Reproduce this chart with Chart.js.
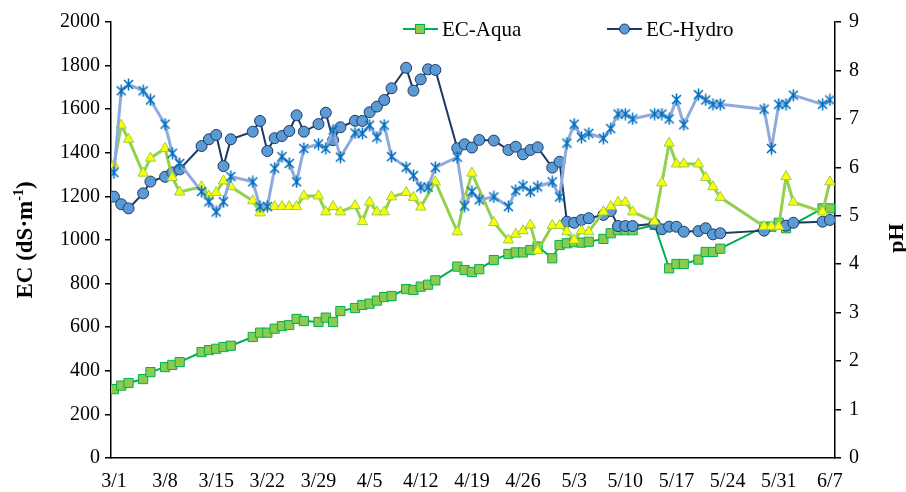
<!DOCTYPE html>
<html>
<head>
<meta charset="utf-8">
<script src="https://cdn.jsdelivr.net/npm/chart.js@4.4.0/dist/chart.umd.min.js"></script>
<style>
  html, body { margin: 0; padding: 0; background: #fff; }
</style>
</head>
<body>
<canvas id="myChart" width="906" height="492"></canvas>
<script>
// days counted from 3/1
const days = [0, 1, 2, 4, 5, 7, 8, 9, 12, 13, 14, 15, 16, 19, 20, 21, 22, 23, 24, 25, 26,
  28, 29, 30, 31, 33, 34, 35, 36, 37, 38, 40, 41, 42, 43, 44, 47, 48, 49, 50, 52,
  54, 55, 56, 57, 58, 60, 61, 62, 63, 64, 65, 67, 68, 69, 70, 71, 74, 75, 76, 77, 78,
  80, 81, 82, 83, 89, 90, 91, 92, 93, 97, 98];

const ecAqua = [316, 332, 344, 362, 394, 417, 427, 440, 486, 495, 501, 509, 515,
  555, 575, 575, 593, 605, 610, 638, 628, 624, 644, 624, 674, 688, 702, 708, 722, 738, 743,
  775, 771, 786, 795, 815, 878, 862, 853, 866, 908, 936, 943, 943, 954, 970,
  916, 977, 985, 990, 988, 992, 1005, 1031, 1045, 1045, 1045, 1069, null, 870, 890, 890,
  910, 945, 945, 960, 1061, 1061, 1079, 1054, null, 1145, 1145];

const ecHydro = [1199, 1164, 1145, 1214, 1268, 1290, 1310, 1324, 1431, 1462, 1482, 1339, 1462,
  1497, 1546, 1408, 1467, 1477, 1500, 1572, 1497, 1532, 1584, 1458, 1517,
  1547, 1546, 1586, 1612, 1642, 1696, 1790, 1685, 1737, 1783, 1780, 1421, 1439, 1424, 1459, 1456,
  1413, 1428, 1393, 1413, 1425, 1332, 1359, 1084, 1079, 1092, 1100, 1115, 1133, 1064, 1064, 1064,
  1075, 1049, 1061, 1061, 1038, 1041, 1054, 1026, 1031, 1043, null, null, 1066, 1079, 1084, 1092];

const phAqua = [6.05, 6.87, 6.58, 5.88, 6.19, 6.39, 5.79, 5.49, 5.60, 5.41, 5.48, 5.72, 5.60,
  5.31, 5.06, 5.19, 5.19, 5.19, 5.19, 5.19, 5.41, 5.41, 5.08, 5.19, 5.08,
  5.21, 4.88, 5.28, 5.08, 5.08, 5.39, 5.48, 5.38, 5.18, null, 5.70, 4.67, 5.35, 5.88, null, 4.86,
  4.50, 4.62, 4.69, 4.81, 4.28, 4.80, 4.80, 4.67, 4.50, 4.69, 4.67, 5.08, 5.19, 5.28, 5.28, 5.08,
  4.88, 5.68, 6.50, 6.07, 6.07, 6.07, 5.79, 5.60, 5.38, 4.78, 4.78, 4.78, 5.81, 5.28, 5.08, 5.70];

const phHydro = [5.89, 7.58, 7.71, 7.58, 7.39, 6.89, 6.29, 6.08, 5.50, 5.29, 5.08, 5.29, 5.81,
  5.70, 5.19, 5.19, 5.98, 6.22, 6.08, 5.70, 6.39, 6.48, 6.39, 6.77, 6.21,
  6.71, 6.70, 6.87, 6.62, 6.87, 6.22, 6.00, 5.83, 5.59, 5.59, 6.00, 6.21, 5.20, 5.50, 5.33, 5.39,
  5.19, 5.52, 5.62, 5.50, 5.60, 5.70, 5.39, 6.50, 6.89, 6.62, 6.70, 6.60, 6.80, 7.10, 7.10, 7.00,
  7.10, 7.10, 7.00, 7.40, 6.88, 7.50, 7.39, 7.30, 7.30, 7.20, 6.39, 7.30, 7.30, 7.49, 7.30, 7.39];

const tickDays = [0, 7, 14, 21, 28, 35, 42, 49, 56, 63, 70, 77, 84, 91, 98];
const tickLabels = ['3/1', '3/8', '3/15', '3/22', '3/29', '4/5', '4/12', '4/19', '4/26',
  '5/3', '5/10', '5/17', '5/24', '5/31', '6/7'];

const serif = "'Liberation Serif', 'Times New Roman', serif";

function pts(values) {
  return days.map(function (d, i) { return { x: d, y: values[i] }; });
}

// star marker: an x with a vertical bar
var star = document.createElement('canvas');
star.width = 13; star.height = 13;
(function () {
  var c = star.getContext('2d');
  c.strokeStyle = '#0070C0';
  c.lineWidth = 1.6;
  c.beginPath();
  c.moveTo(2, 2); c.lineTo(11, 11);
  c.moveTo(11, 2); c.lineTo(2, 11);
  c.moveTo(6.5, 0.5); c.lineTo(6.5, 12.5);
  c.stroke();
})();

// legend + axis titles
const decorations = {
  id: 'decorations',
  afterDraw: function (chart) {
    var ctx = chart.ctx;
    ctx.save();

    // legend
    var ly = 29;
    ctx.lineWidth = 2;
    ctx.strokeStyle = '#00B050';
    ctx.beginPath(); ctx.moveTo(403, ly); ctx.lineTo(438, ly); ctx.stroke();
    ctx.fillStyle = '#8CCB4E';
    ctx.lineWidth = 1;
    ctx.fillRect(415.5, ly - 4.5, 9, 9);
    ctx.strokeRect(415.5, ly - 4.5, 9, 9);

    ctx.lineWidth = 2;
    ctx.strokeStyle = '#203864';
    ctx.beginPath(); ctx.moveTo(607, ly); ctx.lineTo(642, ly); ctx.stroke();
    ctx.fillStyle = '#5B9BD5';
    ctx.lineWidth = 1;
    ctx.beginPath(); ctx.arc(624.5, ly, 5, 0, Math.PI * 2); ctx.fill(); ctx.stroke();

    ctx.fillStyle = '#000';
    ctx.font = '21px ' + serif;
    ctx.textBaseline = 'middle';
    ctx.textAlign = 'left';
    ctx.fillText('EC-Aqua', 442, ly + 1);
    ctx.fillText('EC-Hydro', 646, ly + 1);

    // left title
    ctx.translate(24, 240);
    ctx.rotate(-Math.PI / 2);
    var big = 'bold 23px ' + serif, small = 'bold 14px ' + serif;
    ctx.font = big;
    var w1 = ctx.measureText('EC (dS·m').width;
    var w3 = ctx.measureText(')').width;
    ctx.font = small;
    var w2 = ctx.measureText('-1').width;
    var x = -(w1 + w2 + w3) / 2;
    ctx.textBaseline = 'alphabetic';
    ctx.font = big;
    ctx.fillText('EC (dS·m', x, 8);
    ctx.font = small;
    ctx.fillText('-1', x + w1, -1);
    ctx.font = big;
    ctx.fillText(')', x + w1 + w2, 8);
    ctx.restore();

    // right title
    ctx.save();
    ctx.translate(897, 238);
    ctx.rotate(-Math.PI / 2);
    ctx.font = 'bold 22px ' + serif;
    ctx.fillStyle = '#000';
    ctx.textAlign = 'center';
    ctx.textBaseline = 'middle';
    ctx.fillText('pH', 0, 0);
    ctx.restore();
  }
};

const tickFont = { family: serif, size: 20 };

const config = {
  type: 'line',
  data: {
    datasets: [
      {
        label: 'EC-Aqua',
        data: pts(ecAqua),
        yAxisID: 'y',
        order: 4,
        borderColor: '#00B050',
        borderWidth: 2,
        pointStyle: 'rect',
        pointRadius: 6.5,
        pointBackgroundColor: '#8CCB4E',
        pointBorderColor: '#00B050',
        pointBorderWidth: 1
      },
      {
        label: 'EC-Hydro',
        data: pts(ecHydro),
        yAxisID: 'y',
        order: 3,
        borderColor: '#203864',
        borderWidth: 2,
        pointStyle: 'circle',
        pointRadius: 5.5,
        pointBackgroundColor: '#5B9BD5',
        pointBorderColor: '#203864',
        pointBorderWidth: 1
      },
      {
        label: 'pH-Aqua',
        data: pts(phAqua),
        yAxisID: 'y1',
        order: 2,
        borderColor: '#92D050',
        borderWidth: 3,
        pointStyle: 'triangle',
        pointRadius: 6,
        pointBackgroundColor: '#FFFF00',
        pointBorderColor: '#92D050',
        pointBorderWidth: 1
      },
      {
        label: 'pH-Hydro',
        data: pts(phHydro),
        yAxisID: 'y1',
        order: 1,
        borderColor: '#8FAADC',
        borderWidth: 3,
        pointStyle: star,
        pointRadius: 6
      }
    ]
  },
  options: {
    responsive: false,
    animation: false,
    spanGaps: true,
    elements: { line: { tension: 0 } },
    layout: { padding: { top: 22, left: 0, right: 0, bottom: 0 } },
    plugins: {
      legend: { display: false },
      tooltip: { enabled: false }
    },
    scales: {
      x: {
        type: 'linear',
        min: -0.4,
        max: 98.7,
        afterBuildTicks: function (scale) {
          scale.ticks = tickDays.map(function (d) { return { value: d }; });
        },
        afterFit: function (scale) { scale.height = 34; },
        ticks: {
          autoSkip: false,
          maxRotation: 0,
          padding: 4,
          color: '#000',
          font: tickFont,
          callback: function (value) {
            var i = tickDays.indexOf(value);
            return i >= 0 ? tickLabels[i] : '';
          }
        },
        grid: { display: false },
        border: { color: '#000', width: 1.5 }
      },
      y: {
        position: 'left',
        min: 0,
        max: 2000,
        afterFit: function (scale) { scale.width = 111; },
        ticks: {
          stepSize: 200, padding: 5, color: '#000', font: tickFont,
          callback: function (value) { return String(value); }
        },
        grid: { drawOnChartArea: false, drawTicks: true, tickLength: 6, color: '#000', lineWidth: 1.5 },
        border: { color: '#000', width: 1.5 }
      },
      y1: {
        position: 'right',
        min: 0,
        max: 9,
        afterFit: function (scale) { scale.width = 71; },
        ticks: {
          stepSize: 1, padding: 8, color: '#000', font: tickFont,
          callback: function (value) { return String(value); }
        },
        grid: { drawOnChartArea: false, drawTicks: true, tickLength: 6, color: '#000', lineWidth: 1.5 },
        border: { color: '#000', width: 1.5 }
      }
    }
  },
  plugins: [decorations]
};

const myChart = new Chart(document.getElementById('myChart'), config);
</script>
</body>
</html>
